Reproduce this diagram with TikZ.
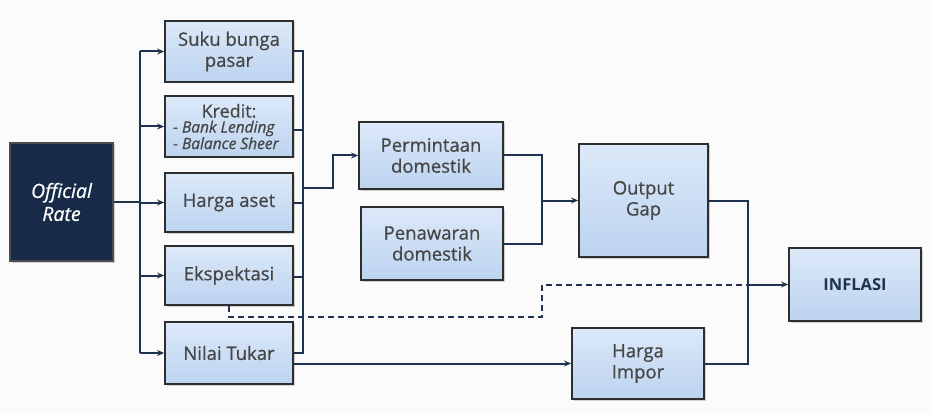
\documentclass[tikz,border=0pt]{standalone}
\usepackage{fontspec}
\setmainfont{Open Sans}
\newfontfamily\semi{Open Sans}[FakeBold=0.6]
\usetikzlibrary{arrows.meta,shadows}
\definecolor{navy}{HTML}{1F3350}
\definecolor{offbox}{HTML}{172A47}
\definecolor{boxtop}{HTML}{DCE9F9}
\definecolor{boxbot}{HTML}{BCD3EF}
\definecolor{txt}{HTML}{464646}
\definecolor{bg}{HTML}{FBFBFC}
\begin{document}
\begin{tikzpicture}[x=1pt,y=-1pt,
  box/.style={draw=black!82,line width=1.8pt,top color=boxtop,bottom color=boxbot,
    text=txt,align=center,inner sep=2pt,
    font=\semi\fontsize{18.5}{21}\selectfont,
    drop shadow={shadow xshift=1.5pt,shadow yshift=-1.5pt,fill=black!35}},
  offstyle/.style={draw=black!70,line width=1.8pt,fill=offbox,text=white,align=center,
    font=\semi\fontsize{19.5}{23}\selectfont\itshape,
    drop shadow={shadow xshift=1.5pt,shadow yshift=-1.5pt,fill=black!35}},
  conn/.style={draw=navy,line width=2pt},
  arr/.style={conn,-{Stealth[length=7pt,width=6pt]}},
]
\fill[bg] (0,0) rectangle (933,414);
\useasboundingbox (0,0) rectangle (933,414);

\node[offstyle,minimum width=103pt,minimum height=118pt] (off) at (61.5,202) {Official\\Rate};

\node[box,minimum width=128pt,minimum height=61pt] (suku) at (229,51.5) {Suku bunga\\pasar};
\node[box,minimum width=128pt,minimum height=61pt,align=left,
  font=\semi\fontsize{15.5}{15}\selectfont] (kredit) at (229,126.5)
  {\makebox[112pt][c]{\fontsize{18}{15}\selectfont Kredit:}\\- \textit{Bank Lending}\\- \textit{Balance Sheer}};
\node[box,minimum width=128pt,minimum height=59pt] (harga) at (229,202.5) {Harga aset};
\node[box,minimum width=128pt,minimum height=59pt] (eksp) at (229,275.5) {Ekspektasi};
\node[box,minimum width=128pt,minimum height=62pt] (nilai) at (229,353) {Nilai Tukar};

\node[box,minimum width=144pt,minimum height=67pt] (perm) at (431,155.5) {Permintaan\\domestik};
\node[box,minimum width=142pt,minimum height=73pt] (pena) at (432,243.5) {Penawaran\\domestik};
\node[box,minimum width=129pt,minimum height=113pt] (gap) at (643.5,200.5) {Output\\Gap};
\node[box,minimum width=132pt,minimum height=71pt] (impor) at (638,363.5) {Harga\\Impor};
\node[box,minimum width=132pt,minimum height=73pt,text=navy,
  font=\fontsize{16.5}{18}\selectfont\bfseries] (infl) at (855,284.5) {INFLASI};

\coordinate (bl) at (140,0);
\coordinate (br) at (303,0);
\coordinate (j1) at (333,188);
\coordinate (j2) at (542,0);
\coordinate (j3) at (748,0);
\coordinate (kr) at ([yshift=-3.5pt]kredit.east);
\coordinate (ek) at ([yshift=-1.5pt]eksp.east);

% left bus
\draw[conn] (off.east) -- (bl |- off.east);
\draw[conn] (bl |- suku.west) -- (bl |- nilai.west);
\foreach \n in {suku,kredit,harga,eksp,nilai}
  \draw[arr] (bl |- \n.west) -- (\n.west);

% right bus
\draw[conn] (suku.east) -- (br |- suku.east) -- (br |- nilai.east) -- (nilai.east);
\draw[conn] (kr) -- (br |- kr);
\draw[conn] (harga.east) -- (br |- harga.east);
\draw[conn] (ek) -- (br |- ek);
\draw[arr] (br |- j1) -- (j1) |- (perm.west);

% demand / supply to output gap
\draw[conn] (perm.east) -| (j2 |- pena.east) -- (pena.east);
\draw[arr] (j2 |- gap.west) -- (gap.west);

% output gap / import prices to inflation
\draw[conn] (gap.east) -| (j3 |- impor.east) -- (impor.east);
\draw[arr] (j3 |- infl.west) -- (infl.west);

% exchange rate to import prices
\draw[arr] (nilai.east |- impor.west) -- (impor.west);

% expectations (dashed)
\draw[conn,dash pattern=on 6pt off 4pt] (eksp.south) -- ++(0,11) -| (j2 |- infl.west) -- (j3 |- infl.west);
\end{tikzpicture}
\end{document}
